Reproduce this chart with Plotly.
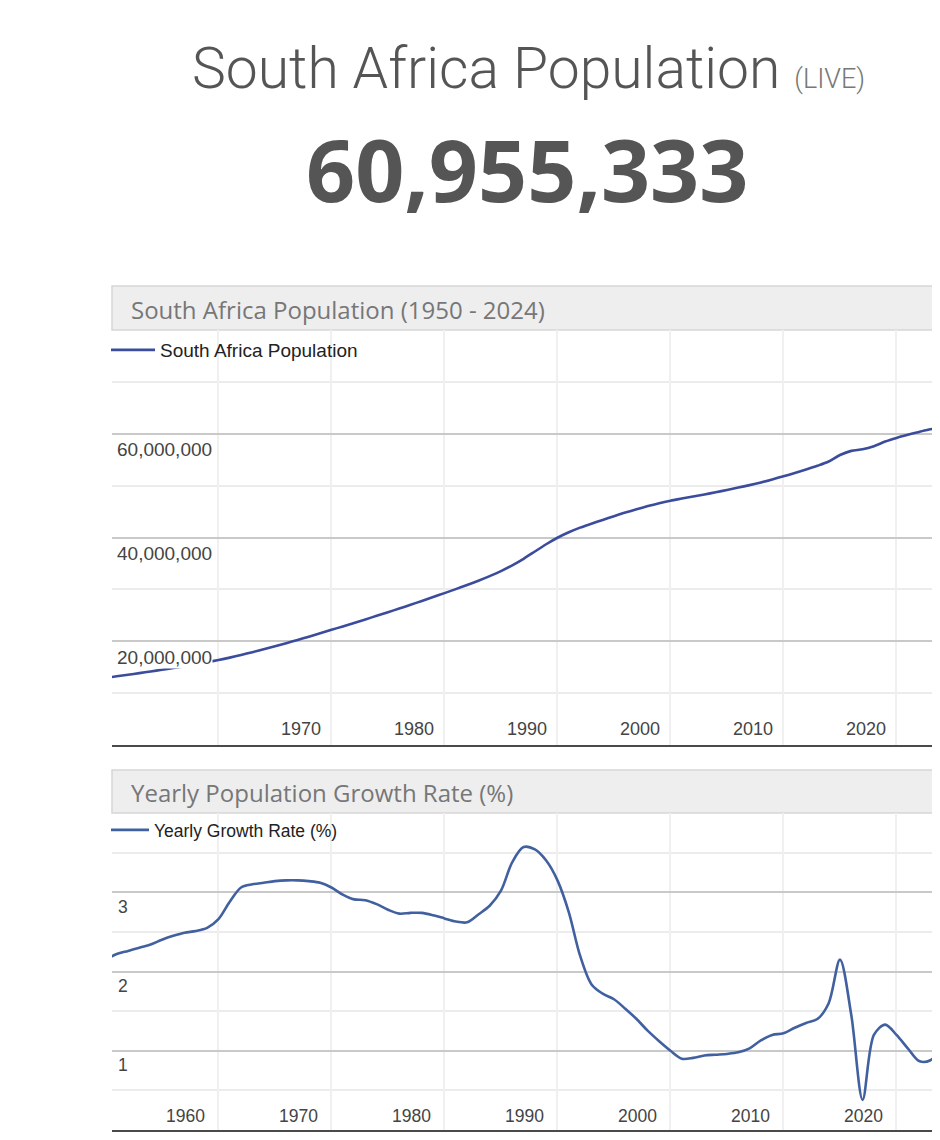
import plotly.graph_objects as go

# ---------------- data ----------------
years = list(range(1950, 2025))

population_millions = [
    12.95, 13.24, 13.54, 13.85, 14.17, 14.50, 14.84, 15.20, 15.57, 15.96,   # 1950-1959
    16.38, 16.84, 17.35, 17.89, 18.45, 19.03, 19.63, 20.25, 20.89, 21.54,   # 1960-1969
    22.20, 22.86, 23.53, 24.21, 24.90, 25.60, 26.31, 27.03, 27.77, 28.52,   # 1970-1979
    29.28, 30.05, 30.84, 31.67, 32.56, 33.53, 34.64, 35.90, 37.30, 38.70,   # 1980-1989
    39.95, 41.00, 41.90, 42.65, 43.38, 44.10, 44.80, 45.45, 46.05, 46.60,   # 1990-1999
    47.10, 47.50, 47.90, 48.30, 48.72, 49.16, 49.62, 50.10, 50.62, 51.20,   # 2000-2009
    51.80, 52.43, 53.10, 53.82, 54.65, 55.90, 56.70, 57.00, 57.60, 58.50,   # 2010-2019
    59.20, 59.80, 60.35, 60.85, 61.35,                                      # 2020-2024
]
population = [round(v * 1_000_000) for v in population_millions]

growth_rate = [
    2.15, 2.22, 2.26, 2.30, 2.34, 2.40, 2.45, 2.49, 2.51, 2.55,   # 1950-1959
    2.66, 2.88, 3.06, 3.10, 3.12, 3.14, 3.15, 3.15, 3.14, 3.12,   # 1960-1969
    3.06, 2.97, 2.91, 2.90, 2.85, 2.78, 2.73, 2.74, 2.74, 2.71,   # 1970-1979
    2.67, 2.63, 2.62, 2.72, 2.83, 3.02, 3.38, 3.57, 3.54, 3.40,   # 1980-1989
    3.15, 2.75, 2.20, 1.84, 1.72, 1.65, 1.53, 1.40, 1.25, 1.12,   # 1990-1999
    1.00, 0.90, 0.91, 0.94, 0.95, 0.96, 0.98, 1.03, 1.13, 1.20,   # 2000-2009
    1.22, 1.29, 1.35, 1.40, 1.60, 2.15, 1.45, 0.38, 1.20, 1.33,   # 2010-2019
    1.20, 1.03, 0.87, 0.88, 1.05,                                 # 2020-2024
]

title_main = "South Africa Population"
title_live = "(LIVE)"
live_count = "60,955,333"
pop_header = "South Africa Population (1950 - 2024)"
growth_header = "Yearly Population Growth Rate (%)"
pop_legend = "South Africa Population"
growth_legend = "Yearly Growth Rate (%)"

decade_ticks = [1960, 1970, 1980, 1990, 2000, 2010, 2020]
pop_x_labels = ["", "1970", "1980", "1990", "2000", "2010", "2020"]
growth_x_labels = ["1960", "1970", "1980", "1990", "2000", "2010", "2020"]
pop_y_ticks = [20_000_000, 40_000_000, 60_000_000]
pop_y_labels = ["20,000,000", "40,000,000", "60,000,000"]
pop_y_minor = [10_000_000, 30_000_000, 50_000_000, 70_000_000]
growth_y_ticks = [1, 2, 3]
growth_y_labels = ["1", "2", "3"]
growth_y_minor = [0.5, 1.5, 2.5, 3.5]

# ---------------- geometry helpers ----------------
# the page body has an 8px default margin, so the figure starts at (8, 8)
OFF = 8
W, H = 940 - OFF, 1140 - OFF


def px(x):
    return (x - OFF) / W


def py(y):
    return 1 - (y - OFF) / H


X_RANGE = [1950.58, 2023.85]
LABEL_FONT = "Arial, Liberation Sans, sans-serif"

fig = go.Figure()

fig.add_trace(go.Scatter(
    x=years, y=population, mode="lines", name=pop_legend,
    line=dict(color="#3b4c9c", width=2.6, shape="spline", smoothing=0.8),
    xaxis="x", yaxis="y", legend="legend", hoverinfo="skip",
))
fig.add_trace(go.Scatter(
    x=years, y=growth_rate, mode="lines", name=growth_legend,
    line=dict(color="#41609f", width=2.6, shape="spline", smoothing=0.9),
    xaxis="x2", yaxis="y2", legend="legend2", hoverinfo="skip",
))

common_x = dict(
    range=X_RANGE, tickmode="array", tickvals=decade_ticks,
    showticklabels=False, ticks="", showgrid=True, gridcolor="#f0f0f0",
    gridwidth=2, zeroline=False, showline=True, linecolor="#4a4a4a",
    linewidth=2, fixedrange=True,
)

fig.update_layout(
    width=W, height=H,
    margin=dict(l=0, r=0, t=0, b=0),
    paper_bgcolor="white", plot_bgcolor="white",
    xaxis=dict(domain=[px(112), 1.0], anchor="y", **common_x),
    yaxis=dict(
        domain=[py(745), py(330)], anchor="x", range=[0, 80_000_000],
        tickmode="array", tickvals=pop_y_ticks, showticklabels=False,
        ticks="", showgrid=True, gridcolor="#c9c9c9", gridwidth=1.5,
        zeroline=False, showline=False, fixedrange=True,
        minor=dict(tickmode="array", tickvals=pop_y_minor, showgrid=True,
                   gridcolor="#ececec", gridwidth=1.5),
    ),
    xaxis2=dict(domain=[px(112), 1.0], anchor="y2", **common_x),
    yaxis2=dict(
        domain=[py(1130), py(813)], anchor="x2", range=[0, 4],
        tickmode="array", tickvals=growth_y_ticks, showticklabels=False,
        ticks="", showgrid=True, gridcolor="#c9c9c9", gridwidth=1.5,
        zeroline=False, showline=False, fixedrange=True,
        minor=dict(tickmode="array", tickvals=growth_y_minor, showgrid=True,
                   gridcolor="#ececec", gridwidth=1.5),
    ),
    legend=dict(
        x=px(106), y=py(331), xanchor="left", yanchor="top",
        font=dict(family=LABEL_FONT, size=19, color="#222"),
        bgcolor="rgba(0,0,0,0)", itemwidth=44,
    ),
    legend2=dict(
        x=px(106), y=py(812), xanchor="left", yanchor="top",
        font=dict(family=LABEL_FONT, size=17.5, color="#222"),
        bgcolor="rgba(0,0,0,0)", itemwidth=38,
    ),
    showlegend=True,
)

shapes = []
annotations = []

# header bars
for top, bottom in [(286, 330), (770, 813)]:
    shapes.append(dict(
        type="rect", xref="paper", yref="paper",
        x0=px(112), x1=1.02, y0=py(bottom), y1=py(top),
        fillcolor="#eeeeee", line=dict(color="#d6d6d6", width=1.5),
        layer="below",
    ))

annotations.append(dict(
    xref="paper", yref="paper", x=px(129), y=py(309),
    xanchor="left", yanchor="middle", showarrow=False,
    text=pop_header,
    font=dict(family="Open Sans", size=24, color="#777777"),
))
annotations.append(dict(
    xref="paper", yref="paper", x=px(129), y=py(792),
    xanchor="left", yanchor="middle", showarrow=False,
    text=growth_header,
    font=dict(family="Open Sans", size=24, color="#777777"),
))

# page titles
annotations.append(dict(
    xref="paper", yref="paper", x=px(528), y=py(68),
    xanchor="center", yanchor="middle", showarrow=False,
    text=title_main + " <span style='font-size:27px;color:#777777'>" + title_live + "</span>",
    font=dict(family="Roboto", size=57, color="#555555", weight=300),
))
annotations.append(dict(
    xref="paper", yref="paper", x=px(527), y=py(168),
    xanchor="center", yanchor="middle", showarrow=False,
    text=live_count,
    font=dict(family="Open Sans", size=86, color="#555555", weight=700),
))

# y-axis labels (drawn inside the plot, below their grid line)
for v, lab in zip(pop_y_ticks, pop_y_labels):
    annotations.append(dict(
        xref="paper", yref="y", x=px(116), y=v, yshift=-16,
        xanchor="left", yanchor="middle", showarrow=False, text=lab,
        bgcolor="white", borderpad=0,
        font=dict(family=LABEL_FONT, size=19, color="#444444"),
    ))
for v, lab in zip(growth_y_ticks, growth_y_labels):
    annotations.append(dict(
        xref="paper", yref="y2", x=px(116), y=v, yshift=-14.5,
        xanchor="left", yanchor="middle", showarrow=False, text=lab,
        font=dict(family=LABEL_FONT, size=17.5, color="#444444"),
    ))

# x-axis labels (inside, left of their grid line)
for v, lab in zip(decade_ticks, pop_x_labels):
    if lab:
        annotations.append(dict(
            xref="x", yref="paper", x=v, xshift=-8, y=py(729),
            xanchor="right", yanchor="middle", showarrow=False, text=lab,
            font=dict(family=LABEL_FONT, size=18, color="#444444"),
        ))
for v, lab in zip(decade_ticks, growth_x_labels):
    annotations.append(dict(
        xref="x2", yref="paper", x=v, xshift=-11, y=py(1116),
        xanchor="right", yanchor="middle", showarrow=False, text=lab,
        font=dict(family=LABEL_FONT, size=17.5, color="#444444"),
    ))

fig.update_layout(shapes=shapes, annotations=annotations)

fig.write_html("out.html")
